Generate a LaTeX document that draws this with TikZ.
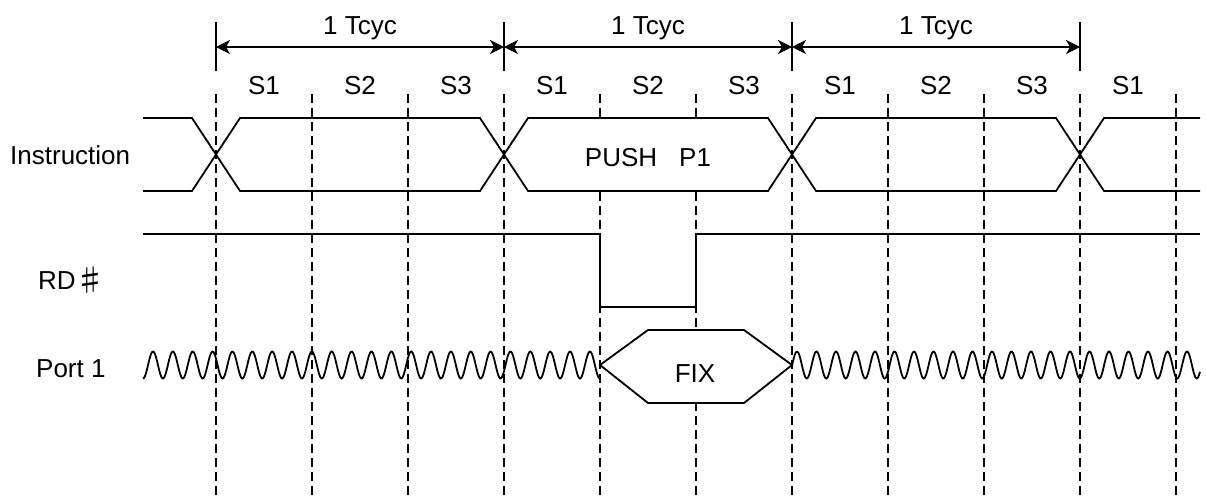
\documentclass[tikz,border=0pt]{standalone}
\usepackage{fontspec}
\setmainfont{Liberation Sans}
\newfontfamily\cjk{Noto Sans CJK JP}
\usetikzlibrary{arrows.meta}
\begin{document}
\begin{tikzpicture}[x=1pt,y=-1pt,
  sig/.style={line width=1.8pt, line join=miter},
  gridline/.style={line width=1.6pt, dash pattern=on 9pt off 5pt},
  tickline/.style={line width=1.6pt},
  dimline/.style={line width=1.6pt,
    {Stealth[length=14pt,width=14pt,inset=4pt]}-{Stealth[length=14pt,width=14pt,inset=4pt]}},
  lbl/.style={font=\fontsize{26}{31}\selectfont, inner sep=0pt}]
\useasboundingbox (0,0) rectangle (1206,499);

% dashed state boundaries
\foreach \x in {216,312,408,504,600,696,792,888,984,1080,1176}
  \draw[gridline] (\x,94) -- (\x,499);

% cycle ticks and dimension arrows
\foreach \i/\x in {0/216,1/504,2/792,3/1080}{
  \coordinate (t\i) at (\x,47);
  \draw[tickline] (\x,22) -- (\x,71);
}
\draw[dimline] (t0) -- (t1);
\draw[dimline] (t1) -- (t2);
\draw[dimline] (t2) -- (t3);
\node[lbl, anchor=base] (tc1) at (360,34) {1 Tcyc};
\node[lbl, anchor=base] (tc2) at (648,34) {1 Tcyc};
\node[lbl, anchor=base] (tc3) at (936,34) {1 Tcyc};

% state labels
\foreach \x/\s in {264/1,360/2,456/3,552/1,648/2,744/3,840/1,936/2,1032/3,1128/1}
  \node[lbl, anchor=base] (s\x) at (\x,94) {S\s};

% signal names
\node[lbl, anchor=base west] (instr) at (10,164) {Instruction};
\node[lbl, anchor=base west] (rd) at (38,289) {RD{\cjk\fontsize{30}{30}\selectfont\raisebox{-2pt}{♯}}};
\node[lbl, anchor=base west] (port) at (36,377) {Port 1};

% Instruction bus
\fill[white] (504,154.5) -- (528,118) -- (768,118) -- (792,154.5) -- (768,191) -- (528,191) -- cycle;
\draw[sig] (143,118) -- (192,118) -- (240,191) -- (480,191) -- (528,118) -- (768,118)
  -- (816,191) -- (1056,191) -- (1104,118) -- (1200,118);
\draw[sig] (143,191) -- (192,191) -- (240,118) -- (480,118) -- (528,191) -- (768,191)
  -- (816,118) -- (1056,118) -- (1104,191) -- (1200,191);
\node[lbl, anchor=base] (push) at (648,166) {PUSH\hspace{22pt}P1};

% RD#
\draw[sig] (143,234) -- (600,234) -- (600,307) -- (696,307) -- (696,234) -- (1200,234);

% Port 1
\draw[sig] plot[domain=143:600, samples=500, smooth] (\x,{365-13.5*cos(18.127*(\x-153))});
\draw[sig] plot[domain=792:1200, samples=450, smooth] (\x,{365-13.5*cos(18.4615*(\x-797))});
\draw[sig, fill=white] (600,365) -- (648,330) -- (744,330) -- (792,365) -- (744,403) -- (648,403) -- cycle;
\node[lbl, anchor=base] (fix) at (695,382) {FIX};
\end{tikzpicture}
\end{document}
